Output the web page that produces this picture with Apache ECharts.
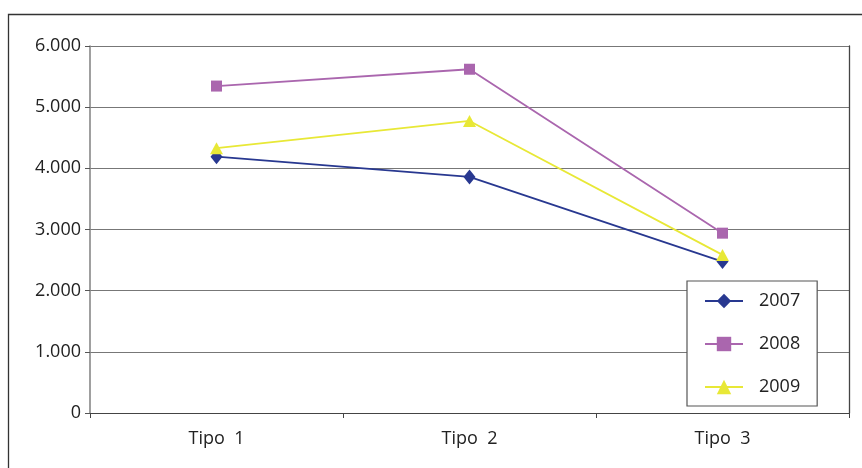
<!DOCTYPE html>
<html>
<head>
<meta charset="utf-8">
<script src="https://cdn.jsdelivr.net/npm/echarts@6/dist/echarts.min.js"></script>
<style>html,body{margin:0;padding:0;background:#fff}#c{width:862px;height:468px}</style>
</head>
<body>
<div id="c"></div>
<script>
const categories = ['Tipo  1', 'Tipo  2', 'Tipo  3'];
const s2007 = [4190, 3860, 2475];
const s2008 = [5345, 5620, 2940];
const s2009 = [4330, 4775, 2585];
const seriesNames = ['2007', '2008', '2009'];
const yTicks = { min: 0, max: 6000, interval: 1000 };

const font = 'Open Sans';
const chart = echarts.init(document.getElementById('c'));
chart.setOption({
  animation: false,
  backgroundColor: '#fff',
  graphic: [{
    type: 'polyline',
    shape: { points: [[8.5, 470], [8.5, 14.5], [870, 14.5]] },
    style: { stroke: '#333', lineWidth: 1.3, fill: null },
    silent: true
  }],
  grid: { left: 90, right: 13, top: 46, bottom: 55, containLabel: false },
  legend: {
    orient: 'vertical',
    left: 687, top: 281,
    padding: [11, 17, 10, 17],
    itemWidth: 38, itemHeight: 18, itemGap: 25,
    borderColor: '#555', borderWidth: 1.2, backgroundColor: '#fff',
    textStyle: { fontFamily: font, fontSize: 18, color: '#222', padding: [0, 0, 0, 11] },
    data: seriesNames
  },
  xAxis: {
    type: 'category', data: categories, boundaryGap: true,
    axisLine: { lineStyle: { color: '#444', width: 1.2 } },
    axisTick: { show: true, length: 5, lineStyle: { color: '#444' } },
    axisLabel: { fontFamily: font, fontSize: 18, color: '#222', margin: 17 }
  },
  yAxis: [{
    type: 'value', min: yTicks.min, max: yTicks.max, interval: yTicks.interval,
    axisLine: { show: true, lineStyle: { color: '#888', width: 1.6 } },
    axisTick: { show: true, length: 5, lineStyle: { color: '#555' } },
    splitLine: { lineStyle: { color: '#777', width: 1.2 } },
    axisLabel: {
      fontFamily: font, fontSize: 18, color: '#222', margin: 9,
      formatter: v => v === 0 ? '0' : v.toLocaleString('de-DE')
    }
  }, {
    type: 'value', position: 'right', min: yTicks.min, max: yTicks.max, interval: yTicks.interval,
    axisLine: { show: true, lineStyle: { color: '#444', width: 1.3 } },
    axisTick: { show: false }, axisLabel: { show: false }, splitLine: { show: false }
  }],
  series: [
    { name: '2007', type: 'line', data: s2007, symbol: 'diamond', symbolSize: [12, 15],
      itemStyle: { color: '#283890' }, lineStyle: { color: '#283890', width: 1.8 } },
    { name: '2008', type: 'line', data: s2008, symbol: 'rect', symbolSize: 11,
      itemStyle: { color: '#AA66AE' }, lineStyle: { color: '#AA66AE', width: 1.8 } },
    { name: '2009', type: 'line', data: s2009, symbol: 'triangle', symbolSize: [13, 12],
      itemStyle: { color: '#E8E836' }, lineStyle: { color: '#E8E836', width: 1.8 } }
  ]
});
</script>
</body>
</html>
